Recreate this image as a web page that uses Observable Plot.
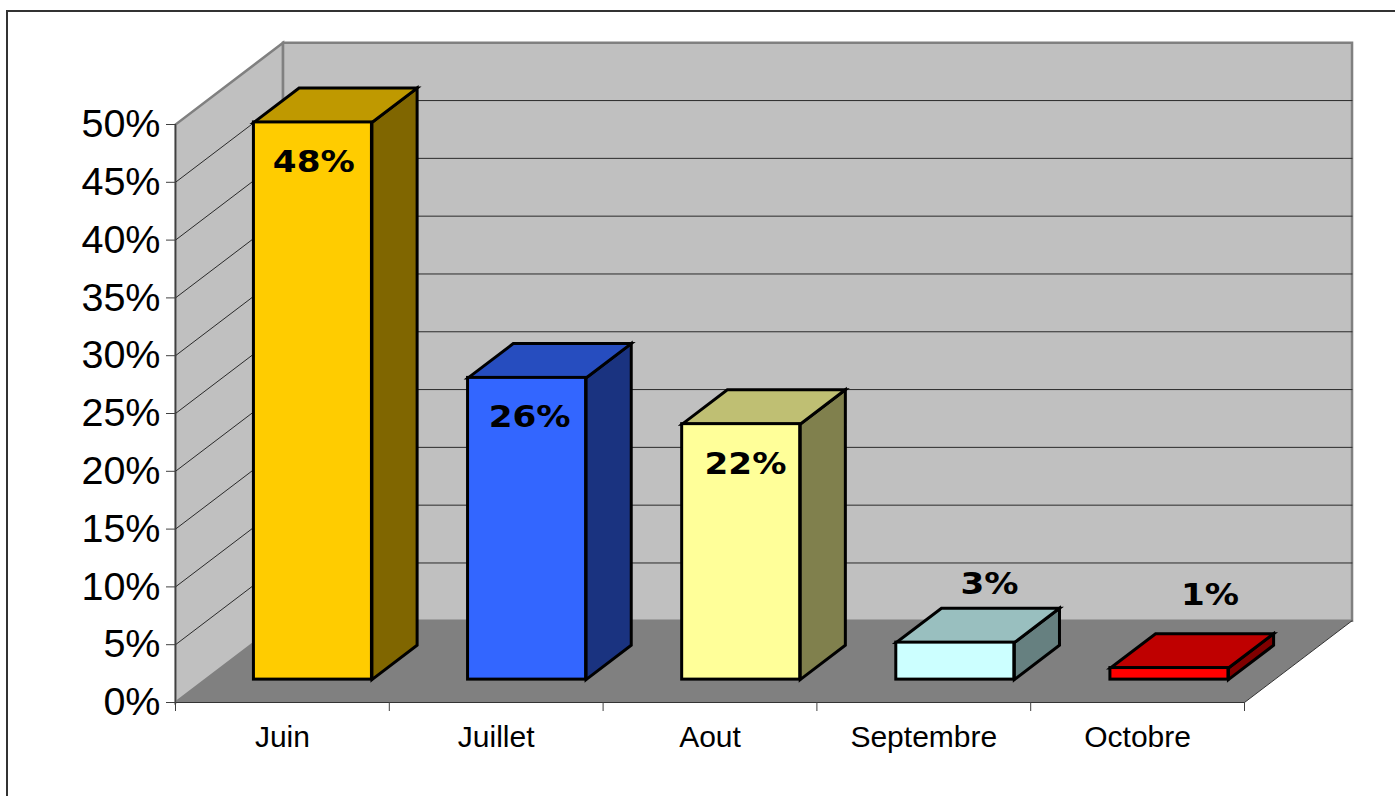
<!DOCTYPE html>
<html lang="fr">
<head>
<meta charset="utf-8">
<title>Répartition par mois</title>
<script src="https://cdn.jsdelivr.net/npm/d3@7"></script>
<script src="https://cdn.jsdelivr.net/npm/@observablehq/plot@0.6"></script>
<style>
  html, body { margin: 0; padding: 0; background: #fff; overflow: hidden; width: 1395px; height: 796px; }
  #border { position: absolute; left: 6px; top: 10px; width: 1500px; height: 900px; border: 2px solid #333; box-sizing: border-box; }
  #chart { position: absolute; left: 0; top: 0; }
  #chart svg { display: block; }
</style>
</head>
<body>
<div id="border"></div>
<div id="chart"></div>
<script>
// Data
const categories = ["Juin", "Juillet", "Aout", "Septembre", "Octobre"];
const barHeights = [48.2, 26.1, 22.1, 3.2, 1];
const valueLabels = ["48%", "26%", "22%", "3%", "1%"];
const baseColors = ["#FFCC00", "#3366FF", "#FFFF99", "#CCFFFF", "#FF0000"];
const yTicks = [0, 5, 10, 15, 20, 25, 30, 35, 40, 45, 50];

// Oblique projection: depth d (0 = front of the box, 1 = back wall)
const skewX = 0.503, skewY = 7.07;
const project = (u, v, d) => ({x: u + d * skewX, y: v + d * skewY});
const poly = (id, fill, corners) => corners.map(([u, v, d]) => ({id, fill, ...project(u, v, d)}));

const uMax = categories.length, vMax = 50;
const barWidth = 0.552, barStep = 1.0015, barShift = 0.002, barFront = 0.28, barBack = 0.70;
const shade = (c, k) => { const r = d3.rgb(c); return d3.rgb(r.r * k, r.g * k, r.b * k).formatHex(); };

const bars = categories.map((name, i) => {
  const u1 = i * barStep + (1 - barWidth) / 2 + barShift;
  const x1 = u1 + barFront * skewX;
  const y1 = barFront * skewY;
  return {name, i, u1, u2: u1 + barWidth, x1, x2: x1 + barWidth, y1, y2: y1 + barHeights[i], color: baseColors[i], h: barHeights[i]};
});

const barFaces = bars.flatMap(b => [
  ...poly(`side${b.i}`, shade(b.color, 0.5), [[b.u2, 0, barFront], [b.u2, 0, barBack], [b.u2, b.h, barBack], [b.u2, b.h, barFront]]),
  ...poly(`top${b.i}`, shade(b.color, 0.75), [[b.u1, b.h, barFront], [b.u2, b.h, barFront], [b.u2, b.h, barBack], [b.u1, b.h, barBack]])
]);

const walls = [
  ...poly("left", "#C0C0C0", [[0, 0, 0], [0, vMax, 0], [0, vMax, 1], [0, 0, 1]]),
  ...poly("back", "#C0C0C0", [[0, 0, 1], [0, vMax, 1], [uMax, vMax, 1], [uMax, 0, 1]])
];
const floor = poly("floor", "#808080", [[0, 0, 0], [uMax, 0, 0], [uMax, 0, 1], [0, 0, 1]]);
const floorEdge = poly("edge", null, [[uMax, 0, 0], [uMax, 0, 1]]);

const gridLines = yTicks.filter(v => v > 0 && v < vMax).flatMap(v =>
  poly(`g${v}`, null, [[0, v, 0], [0, v, 1], [uMax, v, 1]]));

// Labels sit inside tall bars, and above and behind the short ones
const labels = bars.map(b => b.h > 10
  ? {text: valueLabels[b.i], x: (b.x1 + b.x2) / 2 + 0.004 + b.i * 0.008, y: b.y2 - 3.45}
  : {text: valueLabels[b.i], x: (b.x1 + b.x2) / 2 + 0.16 + (b.h < 2 ? 0.03 : 0), y: 8.86 + 0.42 * b.h});

const closed = {x: "x", y: "y", z: "id", curve: "linear-closed", strokeLinejoin: "miter", strokeMiterlimit: 4};

const plot = Plot.plot({
  width: 1395,
  height: 796,
  marginLeft: 175,
  marginRight: 151,
  marginTop: 124,
  marginBottom: 94,
  style: {background: "transparent", overflow: "visible"},
  x: {domain: [0, uMax]},
  y: {domain: [0, vMax]},
  color: {type: "identity"},
  marks: [
    Plot.line(walls, {...closed, fill: "fill", stroke: "#808080", strokeWidth: 2.5}),
    Plot.line(floor, {...closed, fill: "fill", stroke: "none"}),
    Plot.line(gridLines, {x: "x", y: "y", z: "id", stroke: "#2a2a2a", strokeWidth: 1}),
    Plot.line(floorEdge, {x: "x", y: "y", z: "id", stroke: "#333", strokeWidth: 1}),
    Plot.ruleX([0], {y1: 0, y2: vMax, stroke: "#404040", strokeWidth: 1.2}),
    Plot.ruleY([0], {x1: 0, x2: uMax, stroke: "#333", strokeWidth: 1.2}),
    Plot.line(barFaces, {...closed, fill: "fill", stroke: "#000", strokeWidth: 3}),
    Plot.rect(bars, {x1: "x1", x2: "x2", y1: "y1", y2: "y2", fill: "color", stroke: "#000", strokeWidth: 3}),
    Plot.axisY({ticks: yTicks, tickFormat: null, text: null, tickSize: 9, label: null, stroke: "#404040"}),
    Plot.axisY({ticks: yTicks, tickFormat: d => `${d}%`, tickSize: 0, tickPadding: 15, label: null,
      fontSize: 39.5, fontFamily: "Liberation Sans", color: "#000"}),
    Plot.axisX({ticks: d3.range(0, uMax + 1), tickFormat: () => "", tickSize: 9, label: null, stroke: "#404040"}),
    Plot.axisX({ticks: categories.map((_, i) => i + 0.5), tickFormat: d => categories[d - 0.5], tickSize: 0,
      tickPadding: 23, label: null, fontSize: 30, fontFamily: "Liberation Sans", color: "#000"}),
    Plot.text(labels, {x: "x", y: "y", text: "text", fill: "#000", fontSize: 30, fontWeight: "bold",
      fontFamily: "DejaVu Sans"})
  ]
});
document.getElementById("chart").append(plot);

// The reference's value labels are drawn wide: stretch the glyphs horizontally
d3.select(plot).selectAll('g[aria-label="text"] text').each(function () {
  this.setAttribute("lengthAdjust", "spacingAndGlyphs");
  this.setAttribute("textLength", this.getComputedTextLength() * 1.14);
});
</script>
</body>
</html>
